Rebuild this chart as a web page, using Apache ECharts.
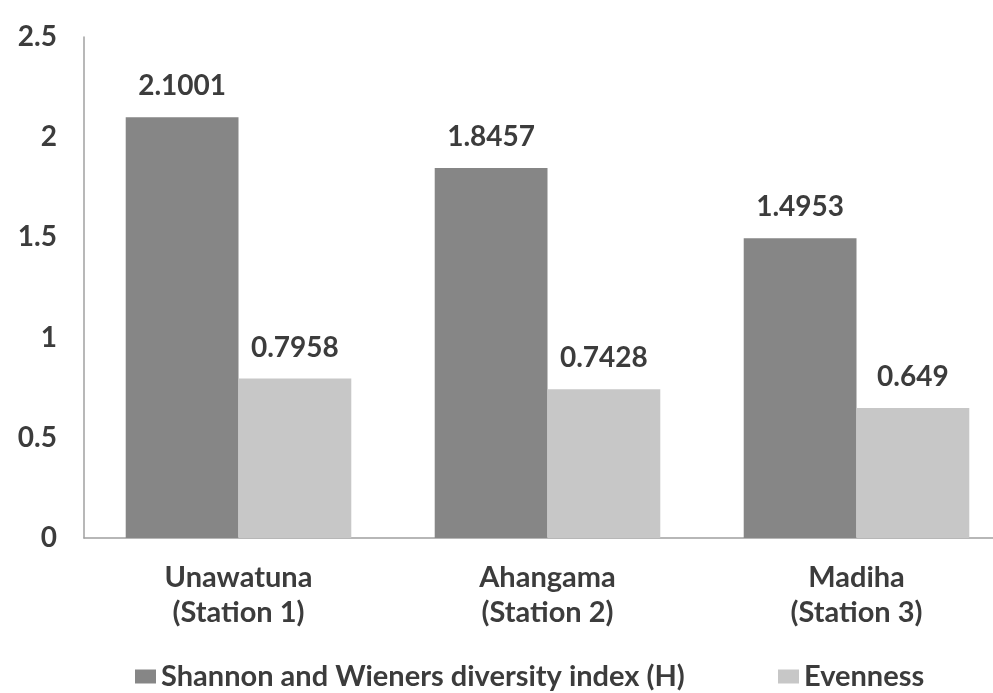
<!DOCTYPE html>
<html><head><meta charset="utf-8">
<script src="https://cdn.jsdelivr.net/npm/echarts@6/dist/echarts.min.js"></script>
<style>html,body{margin:0;padding:0;background:#fff}#c{width:993px;height:693px}</style>
</head><body><div id="c"></div>
<script>
const categories = ['Unawatuna\n(Station 1)', 'Ahangama\n(Station 2)', 'Madiha\n(Station 3)'];
const shannon = [2.1001, 1.8457, 1.4953];
const evenness = [0.7958, 0.7428, 0.649];
const shannonLabels = ['2.1001', '1.8457', '1.4953'];
const evennessLabels = ['0.7958', '0.7428', '0.649'];
const seriesNames = ['Shannon and Wieners diversity index (H)', 'Evenness'];

const font = 'Lato, "Open Sans", sans-serif';
const txt = '#3c3c3c';
const chart = echarts.init(document.getElementById('c'));
const legendText = { fontFamily: font, fontSize: 29, fontWeight: 'bold', color: txt };
chart.setOption({
  backgroundColor: '#fff',
  animation: false,
  grid: { left: 84, width: 927, top: 37, bottom: 155, outerBoundsMode: 'none', containLabel: false },
  legend: [
    { left: 130, top: 657, itemWidth: 21, itemHeight: 14, itemGap: 0, icon: 'rect',
      textStyle: legendText, data: [seriesNames[0]] },
    { left: 773, top: 657, itemWidth: 21, itemHeight: 14, itemGap: 0, icon: 'rect',
      textStyle: legendText, data: [seriesNames[1]] }
  ],
  xAxis: {
    type: 'category', data: categories,
    axisLine: { lineStyle: { color: '#a0a0a0', width: 1.5 } },
    axisTick: { show: false },
    axisLabel: { fontFamily: font, fontSize: 29, fontWeight: 'bold', color: txt, lineHeight: 35, margin: 22 }
  },
  yAxis: {
    type: 'value', min: 0, max: 2.5, interval: 0.5,
    axisLine: { show: true, lineStyle: { color: '#a0a0a0', width: 1.5 } },
    axisTick: { show: false },
    splitLine: { show: false },
    axisLabel: { fontFamily: font, fontSize: 28, fontWeight: 'bold', color: txt, margin: 27 }
  },
  series: [
    {
      name: seriesNames[0], type: 'bar', data: shannon, barGap: '0%', barCategoryGap: '27%',
      itemStyle: { color: '#868686' },
      label: { show: true, position: 'top', distance: 17, fontFamily: font, fontSize: 28, fontWeight: 'bold', color: txt,
        formatter: p => shannonLabels[p.dataIndex] }
    },
    {
      name: seriesNames[1], type: 'bar', data: evenness, barGap: '0%', barCategoryGap: '27%',
      itemStyle: { color: '#c7c7c7' },
      label: { show: true, position: 'top', distance: 17, fontFamily: font, fontSize: 28, fontWeight: 'bold', color: txt,
        formatter: p => evennessLabels[p.dataIndex] }
    }
  ]
});
</script></body></html>
